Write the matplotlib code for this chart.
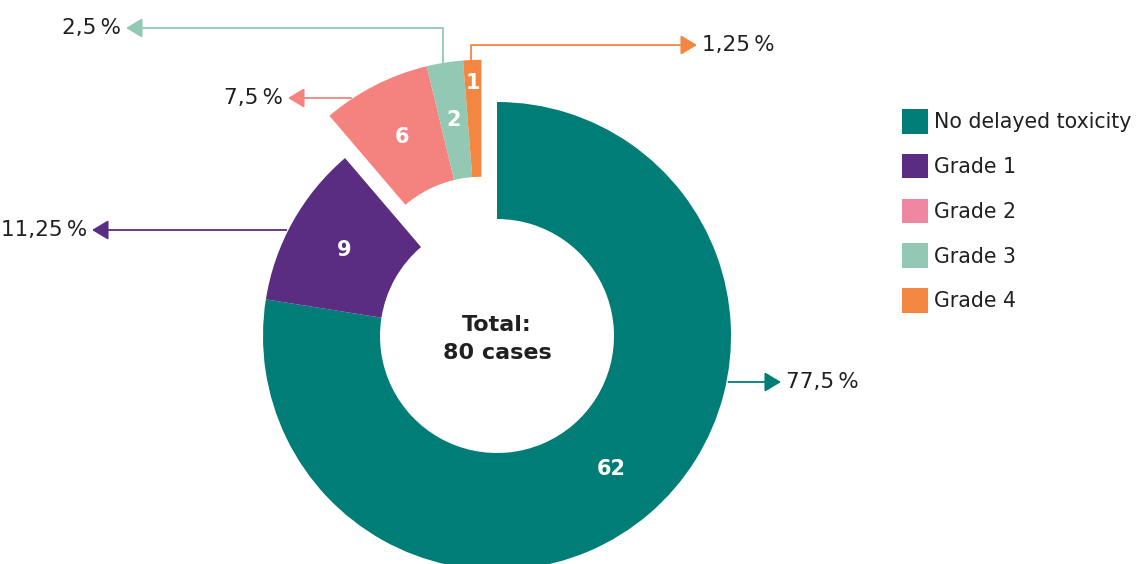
import numpy as np
import matplotlib
matplotlib.use('Agg')
import matplotlib.pyplot as plt
from matplotlib.patches import Patch

# data
categories = ['No delayed toxicity', 'Grade 1', 'Grade 2', 'Grade 3', 'Grade 4']
cases = [62, 9, 6, 2, 1]
pie_colors = ['#007D77', '#5A2D83', '#F48380', '#93C8B5', '#F38641']
legend_colors = ['#007D77', '#5A2D83', '#EF87A3', '#93C8B5', '#F38641']
total = sum(cases)
center_text = 'Total:\n80 cases'

plt.rcParams['font.family'] = ['DejaVu Sans']
text_color = '#231F20'

fig = plt.figure(figsize=(11.36, 5.64), dpi=100)
ax = fig.add_axes([0, 0, 1, 1])

# work in pixel-like coordinates, y pointing down
cx, cy, r_out, ring = 497, 336, 234, 117

wedges, _, nums = ax.pie(cases, colors=pie_colors, center=(cx, cy), radius=r_out,
                         startangle=-90, counterclock=True,
                         wedgeprops=dict(width=ring, linewidth=0),
                         autopct=lambda p: f'{p * total / 100:.0f}', pctdistance=0.75,
                         textprops=dict(color='white', fontsize=15, fontweight='bold'))
ax.set_xlim(0, 1136)
ax.set_ylim(564, 0)
ax.set_aspect('auto')
ax.axis('off')

# pull grades 2-4 out together
shift = 45
mid = np.deg2rad((wedges[2].theta1 + wedges[4].theta2) / 2)
dx, dy = shift * np.cos(mid), shift * np.sin(mid)
for i in [2, 3, 4]:
    wedges[i].set_center((cx + dx, cy + dy))
    x, y = nums[i].get_position()
    nums[i].set_position((x + dx, y + dy))
# the "1" does not fit in its slice, move it to the outer end
m4 = np.deg2rad((wedges[4].theta1 + wedges[4].theta2) / 2)
nums[4].set_position((cx + dx + 0.9 * r_out * np.cos(m4), cy + dy + 0.9 * r_out * np.sin(m4)))

ax.text(cx, cy + 3, center_text, ha='center', va='center', fontsize=16,
        fontweight='bold', color=text_color, linespacing=1.55)


def pct_label(n):
    return f'{n / total * 100:g}'.replace('.', ',') + '\u2009%'


def edge_x(w, y, side):
    # x on the outer arc of wedge w at height y
    wx, wy = w.center
    return wx + side * np.sqrt(w.r ** 2 - (y - wy) ** 2)


arrow = dict(arrowstyle='-|>,head_length=0.5,head_width=0.3', lw=1.3,
             shrinkA=0, shrinkB=0, mutation_scale=20)
pct_size = 15.5

# straight arrows: (index, y, tip x, side)
for i, y, tip, side in [(0, 382, 781, 1), (1, 230, 92, -1), (2, 98, 288, -1)]:
    x0 = edge_x(wedges[i], y, side) + side * 2
    ax.annotate('', xy=(tip, y), xytext=(x0, y),
                arrowprops=dict(arrow, color=pie_colors[i]))
    ax.text(tip + side * 5, y, pct_label(cases[i]), ha='left' if side > 0 else 'right',
            va='center', fontsize=pct_size, color=text_color)

# elbow arrows for the two thin slices: (index, x start, y, tip x, side)
for i, xs, y, tip, side in [(3, 443, 28, 126, -1), (4, 471, 45, 697, 1)]:
    wx, wy = wedges[i].center
    ys = wy - np.sqrt(wedges[i].r ** 2 - (xs - wx) ** 2)
    ax.annotate('', xy=(tip, y), xytext=(xs, ys),
                arrowprops=dict(arrow, color=pie_colors[i],
                                connectionstyle='angle,angleA=-90,angleB=0,rad=0'))
    ax.text(tip + side * 5, y, pct_label(cases[i]), ha='left' if side > 0 else 'right',
            va='center', fontsize=pct_size, color=text_color)

handles = [Patch(facecolor=c, edgecolor='none') for c in legend_colors]
ax.legend(handles, categories, loc='upper left', bbox_to_anchor=(902 / 1136, 1 - 109 / 564),
          frameon=False, fontsize=14.8, handlelength=1.27, handleheight=1.47,
          handletextpad=0.3, labelspacing=0.98, borderaxespad=0, borderpad=0,
          labelcolor=text_color)

plt.savefig('out.png', dpi=100)
